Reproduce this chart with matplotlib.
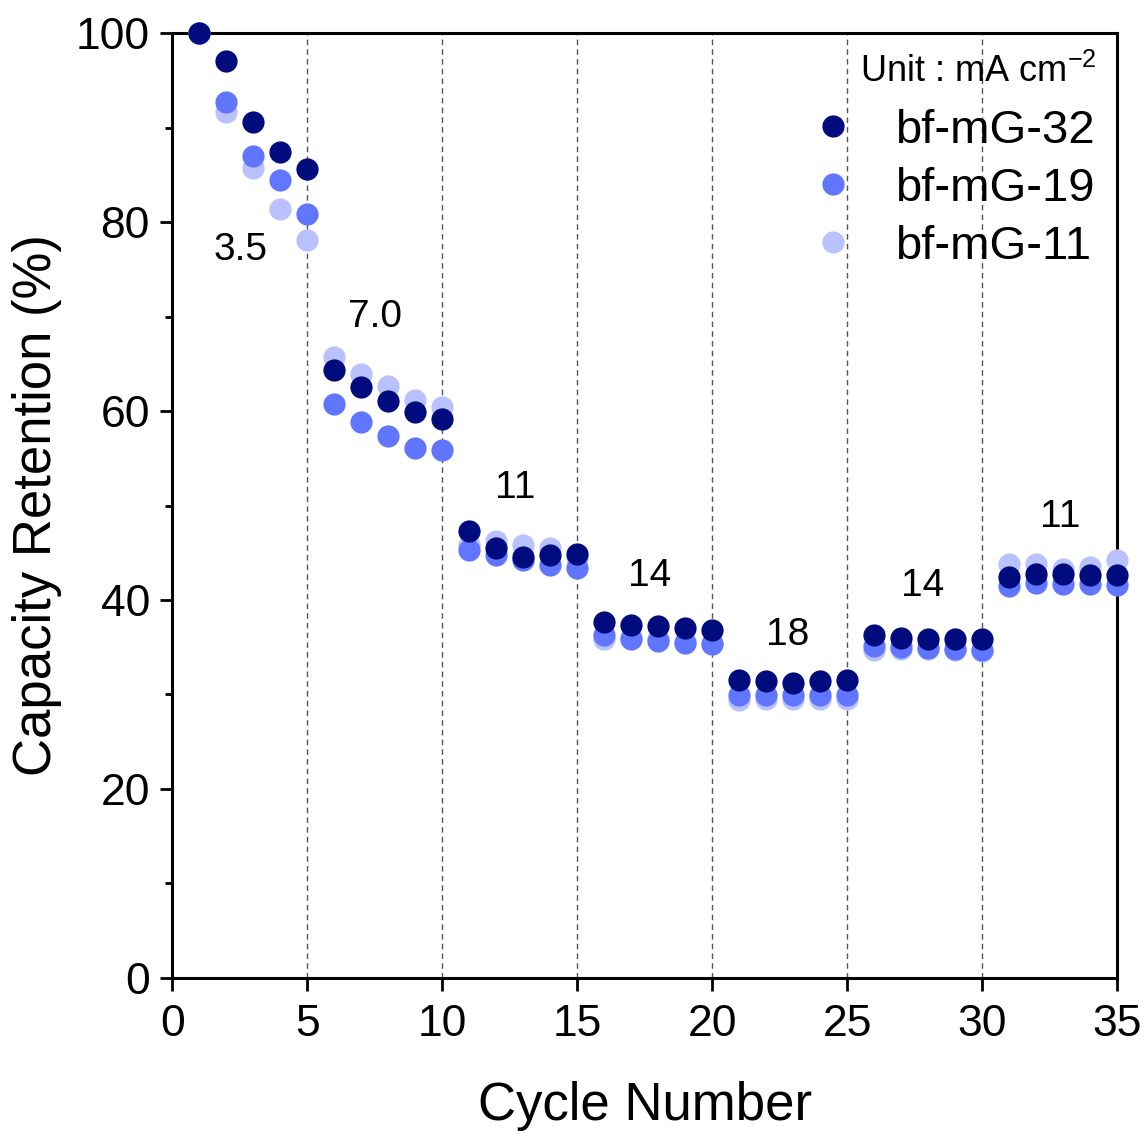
import matplotlib
matplotlib.use("Agg")
import matplotlib.pyplot as plt
from matplotlib.lines import Line2D

plt.rcParams['font.family'] = ['Liberation Sans', 'DejaVu Sans']
plt.rcParams['mathtext.fontset'] = 'custom'
plt.rcParams['mathtext.rm'] = 'Liberation Sans'
plt.rcParams['mathtext.default'] = 'regular'

cycles = list(range(1, 36))
mg32 = [100.0, 97.0, 90.6, 87.4, 85.6,
        64.3, 62.5, 61.1, 59.9, 59.2,
        47.3, 45.5, 44.6, 44.8, 44.9,
        37.7, 37.4, 37.2, 37.0, 36.8,
        31.5, 31.4, 31.2, 31.4, 31.5,
        36.3, 36.0, 35.9, 35.9, 35.9,
        42.4, 42.8, 42.7, 42.6, 42.6]
mg19 = [100.0, 92.7, 87.0, 84.4, 80.8,
        60.7, 58.8, 57.4, 56.1, 55.9,
        45.3, 44.8, 44.2, 43.7, 43.4,
        36.3, 35.9, 35.7, 35.5, 35.3,
        29.9, 29.9, 29.9, 29.9, 29.9,
        35.1, 35.0, 34.9, 34.8, 34.7,
        41.5, 41.8, 41.7, 41.7, 41.6]
mg11 = [100.0, 91.6, 85.7, 81.4, 78.1,
        65.7, 63.9, 62.6, 61.2, 60.4,
        45.8, 46.2, 45.8, 45.5, 44.4,
        35.9, 36.1, 35.9, 35.6, 35.4,
        29.4, 29.5, 29.5, 29.5, 29.5,
        34.7, 34.8, 34.8, 34.7, 34.6,
        43.8, 43.8, 43.3, 43.5, 44.2]

series_labels = ['bf-mG-32', 'bf-mG-19', 'bf-mG-11']
colors = ['#000B7E', '#6176FF', '#B9C2FF']

rate_labels = ['3.5', '7.0', '11', '14', '18', '14', '11']
rate_x = [2.55, 7.5, 12.7, 17.7, 22.8, 27.8, 32.9]
rate_y = [77.0, 70.0, 51.9, 42.5, 36.3, 41.5, 48.8]
segment_bounds = [5, 10, 15, 20, 25, 30]

fig = plt.figure(figsize=(11.48, 11.31), dpi=100)
ax = fig.add_axes([0.150, 0.1353, 0.823, 0.8355])

for xb in segment_bounds:
    ax.axvline(xb, color='#555555', lw=1.0, ls=(0, (4, 3)), zorder=1)

ms = 16
ax.plot(cycles, mg11, 'o', ms=ms, mec='none', color=colors[2], clip_on=False, zorder=3)
ax.plot(cycles, mg19, 'o', ms=ms, mec='none', color=colors[1], clip_on=False, zorder=4)
ax.plot(cycles, mg32, 'o', ms=ms, mec='none', color=colors[0], clip_on=False, zorder=5)

for t, xx, yy in zip(rate_labels, rate_x, rate_y):
    ax.text(xx, yy, t, fontsize=28, ha='center', va='center', zorder=6)

ax.set_xlim(0, 35)
ax.set_ylim(0, 100)
ax.set_xticks(range(0, 36, 5))
ax.set_yticks(range(0, 101, 20))
ax.set_yticks(range(10, 100, 20), minor=True)
ax.tick_params(axis='both', which='major', direction='out', length=9, width=2, labelsize=32, pad=7)
ax.tick_params(axis='x', which='major', pad=10)
ax.tick_params(axis='y', which='minor', direction='out', length=5, width=2)
for s in ax.spines.values():
    s.set_linewidth(2.2)

ax.set_xlabel('Cycle Number', fontsize=38, labelpad=26)
ax.set_ylabel('Capacity Retention (%)', fontsize=38, labelpad=10)

ax.text(0.978, 0.959, 'Unit : mA cm$^{-2}$', transform=ax.transAxes, fontsize=26,
        ha='right', va='center')

handles = [Line2D([], [], ls='none', marker='o', ms=ms, mec='none', color=c) for c in colors]
ax.legend(handles, series_labels, loc='upper right', bbox_to_anchor=(1.006, 0.95),
          frameon=False, fontsize=34, handletextpad=1.0, labelspacing=0.3,
          handlelength=0.6, borderaxespad=0.2)

fig.savefig('out.png', dpi=100)
